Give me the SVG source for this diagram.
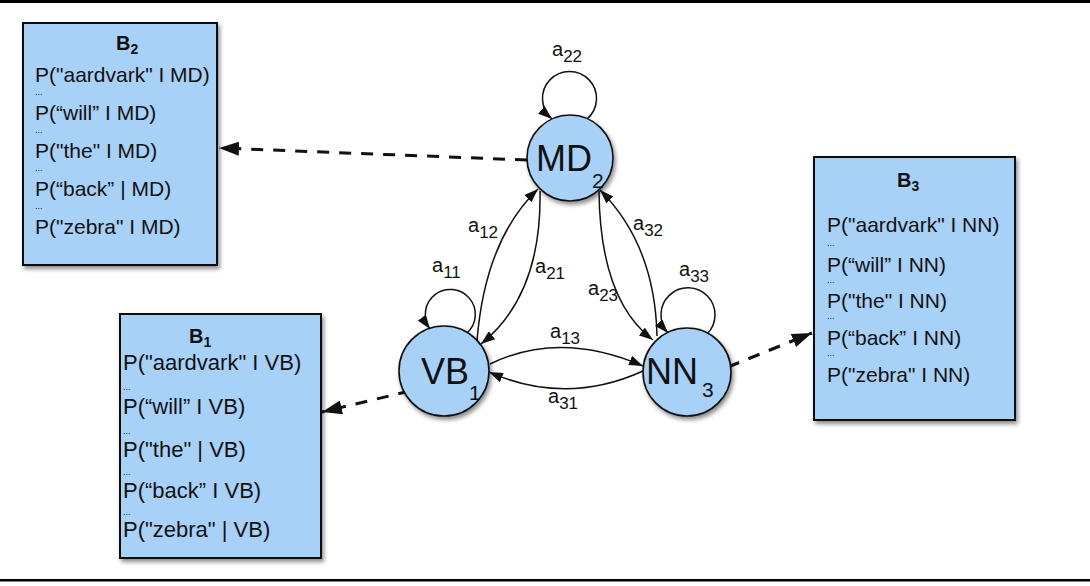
<svg xmlns="http://www.w3.org/2000/svg" width="1090" height="586" viewBox="0 0 1090 586">
<defs>
<style>
.box{fill:#a8d1f8;stroke:#111;stroke-width:2}
.node{fill:#a8d1f8;stroke:#111;stroke-width:1.6}
.t{font-family:"Liberation Sans",Arial,Helvetica,sans-serif;fill:#111}
.ln{font-size:21px}
.ln1{font-size:22px}
.dots{font-size:9px}
.title{font-size:20px;font-weight:bold}
.nl{font-size:36px}
.lbl{font-size:20px}
.e{fill:none;stroke:#111;stroke-width:1.5}
.d{fill:none;stroke:#111;stroke-width:3;stroke-dasharray:12 10}
</style>
<marker id="ah" viewBox="0 0 14 10" refX="14" refY="5" markerWidth="14" markerHeight="10" markerUnits="userSpaceOnUse" orient="auto">
<path d="M0,0 L14,5 L0,10 Z" fill="#111"/>
</marker>
<marker id="ahd" viewBox="0 0 20 14" refX="20" refY="7" markerWidth="20" markerHeight="14" markerUnits="userSpaceOnUse" orient="auto">
<path d="M0,0 L20,7 L0,14 Z" fill="#111"/>
</marker>
<filter id="sh" x="-20%" y="-20%" width="140%" height="140%">
<feDropShadow dx="2" dy="3" stdDeviation="2" flood-color="#000" flood-opacity="0.45"/>
</filter>
</defs>
<rect width="1090" height="586" fill="#fff"/>
<rect x="0" y="0" width="1090" height="3" fill="#000"/>
<rect x="0" y="579" width="1090" height="2.5" fill="#000"/>

<g id="connectors">
<path class="e" d="M587,119 A27,27 0 1 0 552,119" marker-end="url(#ah)"/>
<path class="e" d="M467,333 A25,25 0 1 0 430,329" marker-end="url(#ah)"/>
<path class="e" d="M707,334 A27,27 0 1 0 668,333" marker-end="url(#ah)"/>
<path class="e" d="M490,364 Q560,330 643,366" marker-end="url(#ah)"/>
<path class="e" d="M643,371 Q566,406 489,372" marker-end="url(#ah)"/>
<path class="e" d="M477,341 Q485,240 538,189" marker-end="url(#ah)"/>
<path class="e" d="M540,191 Q542,295 481,344" marker-end="url(#ah)"/>
<path class="e" d="M657,336 Q655,245 600,190" marker-end="url(#ah)"/>
<path class="e" d="M599,191 Q600,300 653,340" marker-end="url(#ah)"/>
<path class="d" d="M527,160 L219,148" marker-end="url(#ahd)"/>
<path class="d" d="M410,391 L322,412" marker-end="url(#ahd)"/>
<path class="d" d="M728,367 L812,333" marker-end="url(#ahd)"/>
<g class="t lbl">
<text x="552" y="56">a<tspan font-size="17" dy="6">22</tspan></text>
<text x="432" y="272">a<tspan font-size="17" dy="6">11</tspan></text>
<text x="679" y="276">a<tspan font-size="17" dy="6">33</tspan></text>
<text x="468" y="232">a<tspan font-size="17" dy="6">12</tspan></text>
<text x="535" y="273">a<tspan font-size="17" dy="6">21</tspan></text>
<text x="633" y="230">a<tspan font-size="17" dy="6">32</tspan></text>
<text x="588" y="295">a<tspan font-size="17" dy="6">23</tspan></text>
<text x="550" y="338">a<tspan font-size="17" dy="6">13</tspan></text>
<text x="548" y="403">a<tspan font-size="17" dy="6">31</tspan></text>
</g>
</g>

<g id="node-MD">
<circle class="node" cx="570" cy="158" r="43" filter="url(#sh)"/>
<text class="t nl" x="536" y="171">MD<tspan font-size="21" dy="17">2</tspan></text>
</g>
<g id="node-VB">
<circle class="node" cx="444" cy="371" r="45" filter="url(#sh)"/>
<text class="t nl" x="421" y="384">VB<tspan font-size="21" dy="16">1</tspan></text>
</g>
<g id="node-NN">
<circle class="node" cx="687" cy="372" r="44" filter="url(#sh)"/>
<text class="t nl" x="646" y="384">NN<tspan font-size="21" dx="4" dy="13">3</tspan></text>
</g>

<g id="box-B2">
<rect class="box" x="23" y="23" width="194" height="242" filter="url(#sh)"/>
<text class="t title" x="116" y="50">B<tspan font-size="14" dy="4">2</tspan></text>
<g class="t ln">
<text x="35" y="82">P("aardvark" I MD)</text>
<text x="35" y="120">P(“will” I MD)</text>
<text x="35" y="158">P("the" I MD)</text>
<text x="35" y="196">P(“back” | MD)</text>
<text x="35" y="234">P("zebra" I MD)</text>
</g>
<g class="t dots">
<text x="35" y="95">...</text>
<text x="35" y="133">...</text>
<text x="35" y="171">...</text>
<text x="35" y="209">...</text>
</g>
</g>

<g id="box-B1">
<rect class="box" x="120" y="314" width="201" height="244" filter="url(#sh)"/>
<text class="t title" x="189" y="343">B<tspan font-size="14" dy="4">1</tspan></text>
<g class="t ln1">
<text x="123" y="370">P("aardvark" I VB)</text>
<text x="123" y="414">P(“will” I VB)</text>
<text x="123" y="457">P("the" | VB)</text>
<text x="123" y="498">P(“back” I VB)</text>
<text x="123" y="537">P("zebra" | VB)</text>
</g>
<g class="t dots">
<text x="123" y="390">...</text>
<text x="123" y="434">...</text>
<text x="123" y="475">...</text>
<text x="123" y="515">...</text>
</g>
</g>

<g id="box-B3">
<rect class="box" x="814" y="157" width="201" height="263" filter="url(#sh)"/>
<text class="t title" x="897" y="187">B<tspan font-size="14" dy="4">3</tspan></text>
<g class="t ln">
<text x="827" y="232">P("aardvark" I NN)</text>
<text x="827" y="272">P(“will” I NN)</text>
<text x="827" y="308">P("the" I NN)</text>
<text x="827" y="345">P(“back” I NN)</text>
<text x="827" y="382">P("zebra" I NN)</text>
</g>
<g class="t dots">
<text x="827" y="246">...</text>
<text x="827" y="283">...</text>
<text x="827" y="319">...</text>
<text x="827" y="356">...</text>
</g>
</g>
</svg>
